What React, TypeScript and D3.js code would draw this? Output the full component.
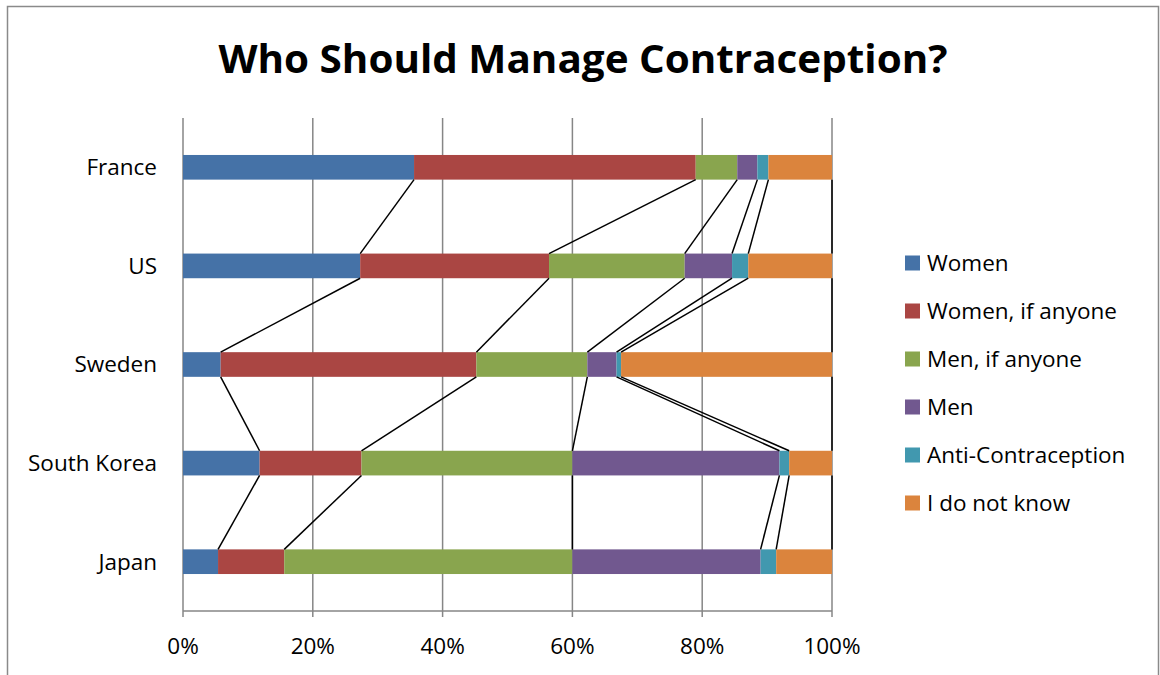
import React from "react";
import * as d3 from "d3";

const categories = ["France", "US", "Sweden", "South Korea", "Japan"];
const seriesNames = ["Women", "Women, if anyone", "Men, if anyone", "Men", "Anti-Contraception", "I do not know"];
const women = [35.6, 27.3, 5.8, 11.8, 5.4];
const womenIfAnyone = [43.4, 29.1, 39.4, 15.7, 10.2];
const menIfAnyone = [6.4, 20.9, 17.1, 32.5, 44.4];
const men = [3.1, 7.3, 4.5, 31.9, 29.0];
const antiContraception = [1.7, 2.5, 0.7, 1.5, 2.4];
const doNotKnow = [9.8, 12.9, 32.5, 6.6, 8.6];
const xTicks = [0, 20, 40, 60, 80, 100];
const colors = ["#4572A7", "#AA4643", "#89A54E", "#71588F", "#4198AF", "#DB843D"];

const seriesValues = [women, womenIfAnyone, menIfAnyone, men, antiContraception, doNotKnow];

export default function App() {
  const left = 183, right = 832, top = 118, bottom = 611;
  const x = d3.scaleLinear().domain([0, 100]).range([left, right]);
  const y = d3.scaleBand().domain(categories).range([top, bottom]).paddingInner(0.75).paddingOuter(0.375);

  const rows = categories.map((c, i) => {
    const vals = seriesValues.map((s) => s[i]);
    const total = d3.sum(vals);
    let acc = 0;
    return vals.map((v, k) => {
      const x0 = acc;
      acc += (v / total) * 100;
      return { cat: c, k, x0, x1: acc };
    });
  });

  const font = "'Open Sans', sans-serif";
  const fs = 22.5;

  return (
    <div style={{ position: "absolute", left: 0, top: 0 }}>
      <svg width={1160} height={675} style={{ display: "block" }}>
        <rect x={0} y={0} width={1160} height={675} fill="#fff" />
        <rect x={7.5} y={6.5} width={1151} height={700} fill="none" stroke="#8a8a8a" strokeWidth={1.5} />
        <text x={583} y={73} textAnchor="middle" fontFamily={font} fontWeight={700} fontSize={40}
          textLength={729} lengthAdjust="spacingAndGlyphs">Who Should Manage Contraception?</text>

        {xTicks.map((t) => (
          <g key={t}>
            <line x1={x(t)} x2={x(t)} y1={top} y2={bottom + 6} stroke="#868686" strokeWidth={1.5} />
            <text x={x(t)} y={654} textAnchor="middle" fontFamily={font} fontSize={fs} fill="#000">{t}%</text>
          </g>
        ))}
        <line x1={left} x2={right} y1={bottom} y2={bottom} stroke="#868686" strokeWidth={1.5} />

        {rows.map((r, i) => (
          <g key={categories[i]}>
            {r.map((seg) => (
              <rect key={seg.k} x={x(seg.x0)} y={y(seg.cat)} width={x(seg.x1) - x(seg.x0)} height={y.bandwidth()} fill={colors[seg.k]} />
            ))}
            <text x={157} y={(y(categories[i]) as number) + y.bandwidth() / 2} dy="0.35em" textAnchor="end" fontFamily={font} fontSize={fs}>{categories[i]}</text>
          </g>
        ))}

        {rows.slice(0, -1).map((r, i) =>
          r.map((seg) => {
            const next = rows[i + 1][seg.k];
            return (
              <line key={`${i}-${seg.k}`} x1={x(seg.x1)} y1={(y(seg.cat) as number) + y.bandwidth()}
                x2={x(next.x1)} y2={y(next.cat) as number} stroke="#000" strokeWidth={1.5} />
            );
          })
        )}

        {seriesNames.map((n, k) => (
          <g key={n} transform={`translate(905, ${263 + k * 48})`}>
            <rect x={0} y={-7.5} width={15} height={15} fill={colors[k]} />
            <text x={22} y={0} dy="0.35em" fontFamily={font} fontSize={fs}>{n}</text>
          </g>
        ))}
      </svg>
    </div>
  );
}
